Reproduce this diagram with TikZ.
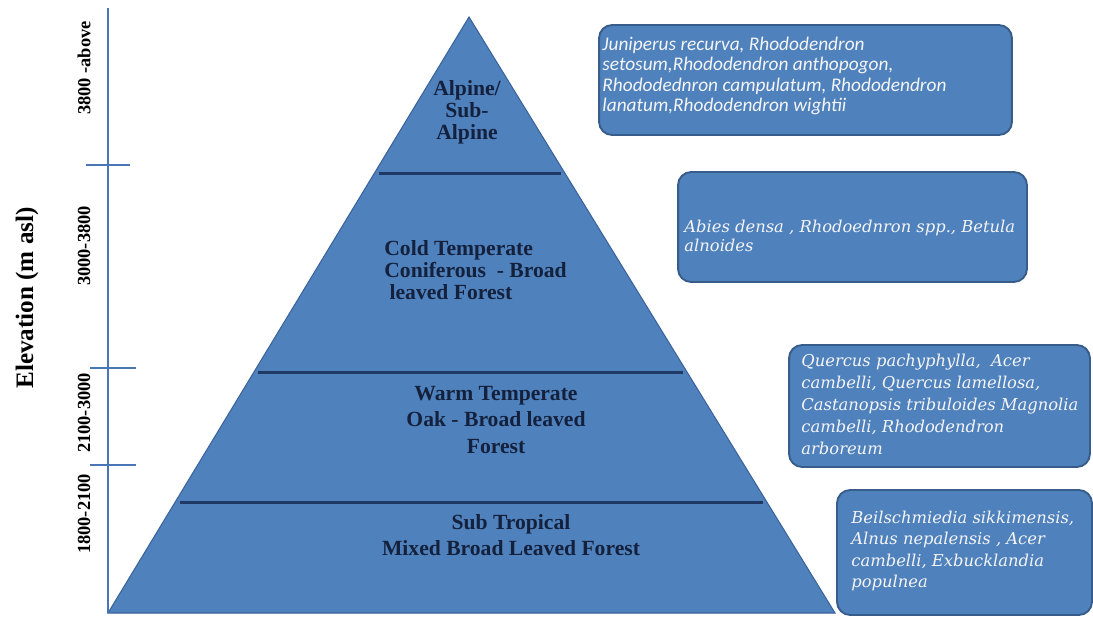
\documentclass[tikz,border=0pt]{standalone}
\usepackage{fontspec}
\setmainfont{Liberation Serif}
\newfontfamily\boxsans{Carlito}
\newfontfamily\boxserif{DejaVu Serif}
\usepackage{tikz}
\usetikzlibrary{calc}

\definecolor{zoneblue}{HTML}{4F81BD}
\definecolor{zoneedge}{HTML}{3A639C}
\definecolor{bandline}{HTML}{1F3864}
\definecolor{zonetext}{HTML}{14213D}
\definecolor{axisblue}{HTML}{4A76B8}
\definecolor{boxedge}{HTML}{385D8A}

\begin{document}
\begin{tikzpicture}[
    x=0.02cm, y=-0.02cm,
    zone/.style={font=\fontsize{12.3}{12.6}\selectfont\bfseries, text=zonetext, align=center, inner sep=0pt},
    band/.style={draw=bandline, line width=1.6pt, shorten <=2.5pt, shorten >=2.5pt},
    axtick/.style={draw=axisblue, line width=0.9pt},
    rangelbl/.style={rotate=90, font=\fontsize{10.5}{12}\selectfont\bfseries, inner sep=0pt},
    spbox/.style={rectangle, rounded corners=7.5pt, draw=boxedge, line width=1.1pt, fill=zoneblue},
    sptext/.style={text=white!96!black, align=left, inner sep=0pt, anchor=west},
    sanstext/.style={sptext, font=\boxsans\itshape\fontsize{11}{11.7}\selectfont},
    seriftext/.style={sptext, font=\boxserif\itshape\fontsize{9.3}{12.3}\selectfont}
]
    \useasboundingbox (0,0) rectangle (1093,618);

    % --- Pyramid ---
    \coordinate (apex) at (469,17);
    \coordinate (bl) at (108,613);
    \coordinate (br) at (835,613);
    \draw[fill=zoneblue, draw=zoneedge, line width=0.6pt] (apex) -- (bl) -- (br) -- cycle;

    \coordinate (b1l) at ($(apex)!0.262!(bl)$);
    \coordinate (b1r) at ($(apex)!0.262!(br)$);
    \coordinate (b2l) at ($(apex)!0.597!(bl)$);
    \coordinate (b2r) at ($(apex)!0.597!(br)$);
    \coordinate (b3l) at ($(apex)!0.814!(bl)$);
    \coordinate (b3r) at ($(apex)!0.814!(br)$);
    \draw[band] (b1l) -- (b1r);
    \draw[band] (b2l) -- (b2r);
    \draw[band] (b3l) -- (b3r);

    \node[zone] (alpine) at (467,112) {Alpine/\\Sub-\\Alpine};
    \node[zone, align=left, anchor=west] (cold) at (384,270)
      {Cold Temperate\\Coniferous\ \ - Broad\\\hspace*{3pt}leaved Forest};
    \node[zone, font=\fontsize{12.3}{15.2}\selectfont\bfseries] (warm) at (496,420)
      {Warm Temperate\\Oak - Broad leaved\\Forest};
    \node[zone, font=\fontsize{12.3}{14.8}\selectfont\bfseries] (subtrop) at (511,535)
      {Sub Tropical\\Mixed Broad Leaved Forest};

    % --- Elevation axis ---
    \coordinate (atop) at (108,8);
    \coordinate (abot) at (108,613);
    \draw[axtick, line width=1.1pt] (atop) -- (abot);
    \coordinate (t1) at (108,165);
    \coordinate (t2) at (108,368);
    \coordinate (t3) at (108,465);
    \draw[axtick] ($(t1)+(-22,0)$) -- ($(t1)+(22,0)$);
    \draw[axtick] ($(t2)+(-18,0)$) -- ($(t2)+(28,0)$);
    \draw[axtick] ($(t3)+(-18,0)$) -- ($(t3)+(28,0)$);

    \node[rangelbl] (r4) at (84,68)  {3800 -above};
    \node[rangelbl] (r3) at (84,246) {3000-3800};
    \node[rangelbl] (r2) at (84,413) {2100-3000};
    \node[rangelbl] (r1) at (84,514) {1800-2100};
    \node[rotate=90, inner sep=0pt, font=\fontsize{14.3}{16}\selectfont\bfseries] (elev) at (27,298)
      {Elevation (m asl)};

    % --- Species boxes ---
    \node[spbox, minimum width=8.26cm, minimum height=2.2cm] (sp4) at (805.5,80) {};
    \node[sanstext] (sp4txt) at ($(sp4.west)+(4,-4)$)
      {Juniperus recurva, Rhododendron\\setosum,Rhododendron anthopogon,\\Rhododednron campulatum, Rhododendron\\lanatum,Rhododendron wightii};

    \node[spbox, minimum width=6.98cm, minimum height=2.2cm] (sp3) at (852.5,227) {};
    \node[seriftext, font=\boxserif\itshape\fontsize{9.3}{10.9}\selectfont] (sp3txt) at ($(sp3.west)+(7,9)$)
      {Abies densa , Rhodoednron spp., Betula\\alnoides};

    \node[spbox, minimum width=6.02cm, minimum height=2.44cm] (sp2) at (939.5,406) {};
    \node[seriftext, font=\boxserif\itshape\fontsize{9.3}{12.5}\selectfont] (sp2txt) at ($(sp2.west)+(13,-1.5)$)
      {Quercus pachyphylla,\ \ Acer\\cambelli, Quercus lamellosa,\\Castanopsis tribuloides Magnolia\\cambelli, Rhododendron\\arboreum};

    \node[spbox, minimum width=5.10cm, minimum height=2.5cm] (sp1) at (964.5,552.5) {};
    \node[seriftext] (sp1txt) at ($(sp1.west)+(15,-1.5)$)
      {Beilschmiedia sikkimensis,\\Alnus nepalensis , Acer\\cambelli, Exbucklandia\\populnea};

\end{tikzpicture}
\end{document}
